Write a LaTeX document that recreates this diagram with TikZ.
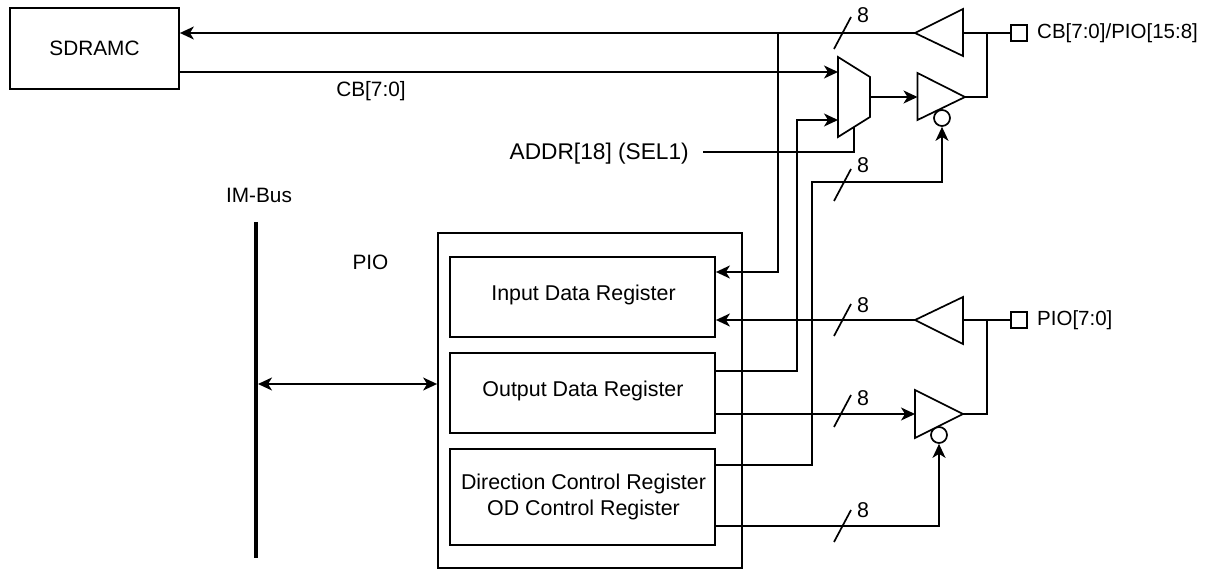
\documentclass[tikz,border=0pt]{standalone}
\usepackage{fontspec}
\setmainfont{Liberation Sans}
\usetikzlibrary{arrows.meta,calc}
\tikzset{
  x=1pt,y=-1pt,
  ln/.style={line width=1.7pt,line join=miter},
  arr/.style={ln,-{Stealth[length=14pt,width=13pt,inset=4pt]}},
  darr/.style={ln,{Stealth[length=14pt,width=13pt,inset=4pt]}-{Stealth[length=14pt,width=13pt,inset=4pt]}},
  lab/.style={font=\fontsize{20.8}{26}\selectfont,inner sep=0pt,align=center},
  padlab/.style={font=\fontsize{20.5}{26}\selectfont,inner sep=0pt,align=center},
  reglab/.style={font=\fontsize{21.4}{26}\selectfont,inner sep=0pt,align=center},
  addrlab/.style={font=\fontsize{22.7}{26}\selectfont,inner sep=0pt,align=center},
  boxx/.style={draw,line width=1.8pt,inner sep=0pt,lab},
  pad/.style={draw,line width=1.7pt,minimum width=16pt,minimum height=16pt,inner sep=0pt},
  dot/.style={draw,circle,line width=1.7pt,minimum size=16pt,inner sep=0pt},
  tick/.style={line width=1.7pt},
}
\begin{document}
\begin{tikzpicture}
\useasboundingbox (0,0) rectangle (1219,569);
% boxes
\node[boxx,minimum width=169pt,minimum height=81pt] (sdram) at (94.5,48.5) {SDRAMC};
\node[boxx,minimum width=304pt,minimum height=335pt] (pio) at (590,400.5) {};
\node[boxx,minimum width=265pt,minimum height=80pt] (inreg) at (582.5,297) {};
\node[boxx,minimum width=265pt,minimum height=80pt] (outreg) at (582.5,393) {};
\node[boxx,minimum width=265pt,minimum height=96pt] (dirreg) at (582.5,497) {};
\node[reglab] (intxt) at (583.5,295) {Input Data Register};
\node[reglab] (outtxt) at (583,391) {Output Data Register};
\node[reglab] (dirtxt) at (583.5,497) {Direction Control Register\\OD Control Register};
\node[lab] (piotxt) at (370.5,262) {PIO};
\node[lab] (imtxt) at (259,195) {IM-Bus};
\node[lab] (cbtxt) at (371,91) {CB[7:0]};
\node[addrlab,anchor=east] (addrtxt) at (689,154) {ADDR[18] (SEL1)};
% named points
\coordinate (imtop) at (256,222);
\coordinate (imbot) at (256,558);
\coordinate (t1tip) at (915,33);
\coordinate (t2tip) at (965,97);
\coordinate (t2in) at (917.5,97);
\coordinate (muxout) at (870,97);
\coordinate (muxa) at (838,72);
\coordinate (muxb) at (838,120);
\coordinate (muxs) at (854,127);
\coordinate (t3tip) at (915,320);
\coordinate (t4tip) at (963,414);
\coordinate (t4in) at (915,414);
\coordinate (jt) at (987,33);
\coordinate (jb) at (987,320);
\node[pad] (padt) at (1019,33) {};
\node[pad] (padb) at (1019,320) {};
\node[dot] (ent) at (942,118) {};
\node[dot] (enb) at (939,435) {};
\node[padlab,anchor=west] (padttxt) at (1037,33) {CB[7:0]/PIO[15:8]};
\node[padlab,anchor=west] (padbtxt) at (1037,320) {PIO[7:0]};
% IM bus
\draw[line width=4pt] (imtop) -- (imbot);
\coordinate (bus) at (258,384);
\draw[darr] (bus) -- (pio.west |- bus);
% buffers
\draw[ln,fill=white] (t1tip) -- (963,9) -- (963,56) -- cycle;
\draw[ln,fill=white] (917.5,73) -- (917.5,120) -- (t2tip) -- cycle;
\draw[ln,fill=white] (t3tip) -- (963,297) -- (963,344) -- cycle;
\draw[ln,fill=white] (915,390) -- (915,438) -- (t4tip) -- cycle;
% mux
\draw[ln,fill=white] (838,57) -- (870,77) -- (870,117) -- (838,137) -- cycle;
% top wires
\draw[arr] (t1tip) -- (sdram.east |- t1tip);
\draw[arr] (sdram.east |- muxa) -- (muxa);
\draw[arr] (778,33) -- (778,272) -- (inreg.east |- 778,272);
\draw[arr] (muxout) -- (t2in);
\draw[ln] (963,33) -- (padt.west);
\draw[ln] (jt) -- (987,97) -- (t2tip);
\draw[ln] (703,152) -- (854,152) -- (muxs);
% output data register to mux
\draw[arr] (outreg.east |- 797,371) -- (797,371) -- (797,120) -- (muxb);
% direction to top enable
\draw[arr] (dirreg.east |- 812,465) -- (812,465) -- (812,182) -- (942,182) -- (ent.south);
% bottom channel
\draw[arr] (t3tip) -- (inreg.east |- t3tip);
\draw[ln] (963,320) -- (padb.west);
\draw[ln] (jb) -- (987,414) -- (t4tip);
\draw[arr] (outreg.east |- t4in) -- (t4in);
\draw[arr] (dirreg.east |- 939,526) -- (939,526) -- (enb.south);
% bus width ticks
\foreach \yy/\ly in {33/15,185/165,320/305,411/398,526/510}{
  \draw[tick] (851,\yy-16) -- (834,\yy+16);
  \node[reglab] at (863,\ly) {8};
}
\end{tikzpicture}
\end{document}
